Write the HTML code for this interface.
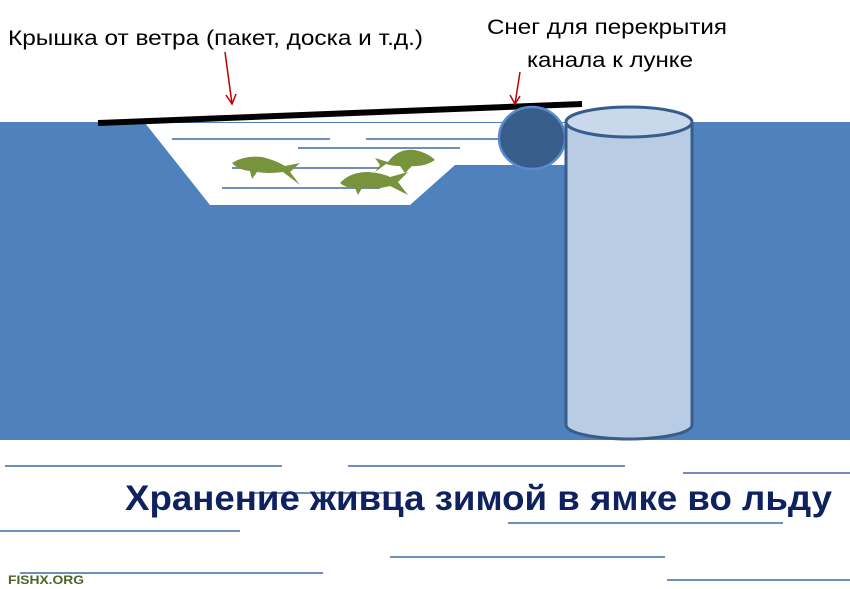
<!DOCTYPE html>
<html><head><meta charset="utf-8"><style>
html,body{margin:0;padding:0;background:#fff;width:850px;height:589px;overflow:hidden}
</style></head><body>
<svg width="850" height="589" viewBox="0 0 850 589" xmlns="http://www.w3.org/2000/svg">
<rect x="0" y="122" width="850" height="318" fill="#4f81bd"/>
<polygon points="145,123 210,205 410,205 455,165 570,165 570,123" fill="#fff"/>
<g stroke="#6d8fba" stroke-width="2">
<line x1="172" y1="139" x2="330" y2="139"/>
<line x1="366" y1="139" x2="500" y2="139"/>
<line x1="298" y1="148" x2="460" y2="148"/>
<line x1="232" y1="168" x2="380" y2="168"/>
<line x1="222" y1="188" x2="380" y2="188"/>
</g>
<g fill="#77933c">
<path d="M232,163 Q245,155 262,157 Q275,160 285,166 L300,163 L290,172 L300,185 L283,172 Q268,174 257,172 L252,179 L250,171 Q238,170 232,163Z"/>
<path d="M375,158 L388,162 Q398,148 415,150 Q428,153 435,160 Q425,167 412,166 L405,173 L400,166 Q392,166 386,164 L375,172 L380,165Z"/>
<path d="M340,183 Q350,172 368,172 Q382,173 390,177 L408,172 L398,182 L408,195 L390,186 Q375,190 362,188 L358,195 L355,188 Q345,188 340,183Z"/>
</g>
<line x1="98" y1="123" x2="582" y2="104" stroke="#000" stroke-width="6"/>
<ellipse cx="532" cy="138" rx="33" ry="31" fill="#385d8a" stroke="#5a8ad0" stroke-width="2.5"/>
<path d="M566,122 L566,425 A63,14 0 0 0 692,425 L692,122" fill="#b8cce4" stroke="#385d8a" stroke-width="3"/>
<ellipse cx="629" cy="122" rx="63" ry="15" fill="#c9d8ea" stroke="#385d8a" stroke-width="3"/>
<g stroke="#c00000" stroke-width="1.5" fill="none">
<line x1="225" y1="52" x2="232" y2="104"/>
<polyline points="226,95 232,104 236,94"/>
<line x1="520" y1="72" x2="515" y2="104"/>
<polyline points="510,95 515,104 520,96"/>
</g>
<g font-family="Liberation Sans, sans-serif" fill="#000" font-size="21">
<text x="8" y="45" textLength="415" lengthAdjust="spacingAndGlyphs">Крышка от ветра (пакет, доска и т.д.)</text>
<text x="487" y="34" textLength="240" lengthAdjust="spacingAndGlyphs">Снег для перекрытия</text>
<text x="527" y="67" textLength="166" lengthAdjust="spacingAndGlyphs">канала к лунке</text>
</g>
<g stroke="#6d8fba" stroke-width="2">
<line x1="5" y1="466" x2="282" y2="466"/>
<line x1="348" y1="466" x2="625" y2="466"/>
<line x1="683" y1="473" x2="850" y2="473"/>
<line x1="0" y1="531" x2="240" y2="531"/>
<line x1="508" y1="523" x2="783" y2="523"/>
<line x1="390" y1="557" x2="665" y2="557"/>
<line x1="20" y1="573" x2="323" y2="573"/>
<line x1="667" y1="580" x2="850" y2="580"/>
<line x1="250" y1="493" x2="400" y2="493"/>
</g>
<text x="125" y="510" font-family="Liberation Sans, sans-serif" font-weight="bold" font-size="35" fill="#0f2260" stroke="#0f2260" stroke-width="0" textLength="707" lengthAdjust="spacingAndGlyphs" style="font-weight:600">Хранение живца зимой в ямке во льду</text>
<text x="8" y="584" font-family="Liberation Sans, sans-serif" font-weight="bold" font-size="12" fill="#4f6228" textLength="76" lengthAdjust="spacingAndGlyphs">FISHX.ORG</text>
</svg>
</body></html>
